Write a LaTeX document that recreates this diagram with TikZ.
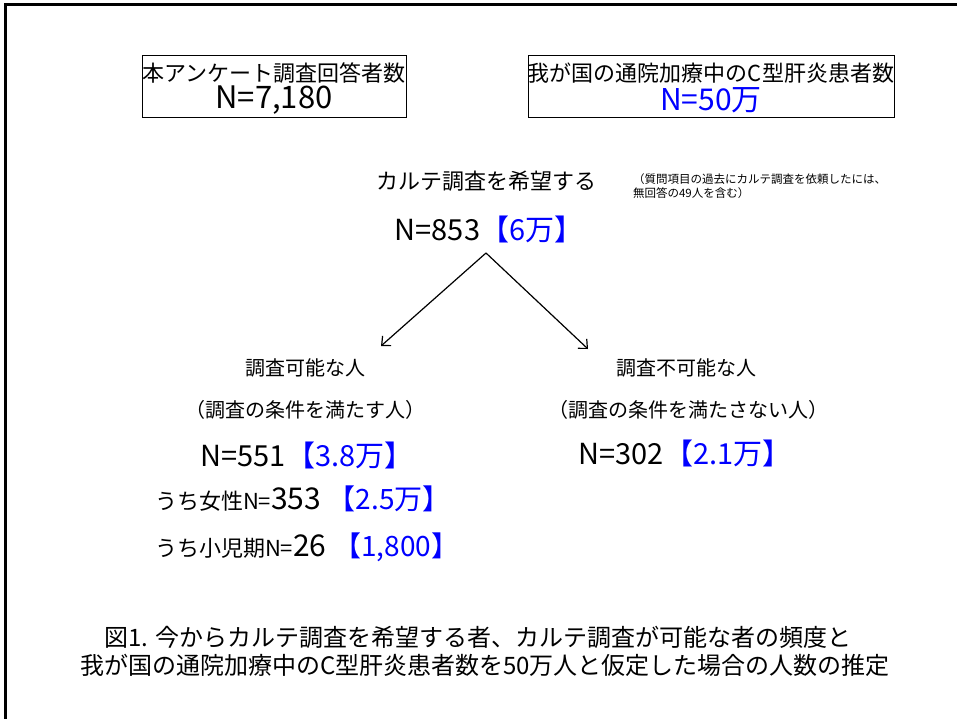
\documentclass[tikz,border=0pt]{standalone}
\usepackage{fontspec}
\setmainfont{Noto Sans CJK JP}
\usetikzlibrary{arrows.meta}
\definecolor{nblue}{RGB}{0,0,255}
\tikzset{
  txt/.style={inner sep=0pt, outer sep=0pt},
  fa/.style={txt, font=\fontsize{20}{24}\selectfont},
  fb/.style={txt, font=\fontsize{22}{26}\selectfont},
  fc/.style={txt, font=\fontsize{29}{33}\selectfont},
  fcap/.style={txt, font=\fontsize{24}{28}\selectfont},
  boxn/.style={draw, line width=0.8pt, minimum width=264pt, minimum height=62pt, inner sep=0pt},
  arr/.style={line width=1.2pt, -{Straight Barb[length=7pt,width=13pt]}},
}
\begin{document}
\begin{tikzpicture}[x=1pt,y=-1pt]
\useasboundingbox (0,0) rectangle (957,719);
% frame
\draw[line width=3pt] (5,719) -- (5,5) -- (957,5);
% top boxes
\node[boxn] (b1) at (274,86) {};
\node[fb] (b1a) at (274,73) {本アンケート調査回答者数};
\node[txt, font=\fontsize{31}{35}\selectfont] (b1b) at (274,100) {N=7,180};
\node[boxn, minimum width=366pt] (b2) at (711,86) {};
\node[fb] (b2a) at (711,73) {我が国の通院加療中のC型肝炎患者数};
\node[txt, font=\fontsize{30}{34}\selectfont, text=nblue] (b2b) at (711,100) {N=50万};
% heading
\node[fb] (h1) at (486,181) {カルテ調査を希望する};
\node[txt, font=\fontsize{11.5}{14}\selectfont, align=left, anchor=north west] (note) at (633,174) {（質問項目の過去にカルテ調査を依頼したには、\\無回答の49人を含む）};
\node[fc] (h2) at (489,229) {N=853\textcolor{nblue}{【6万】}};
% arrows
\coordinate (apex) at (486,253);
\coordinate (le) at (381,346);
\coordinate (re) at (588,349);
\draw[arr] (apex) -- (le);
\draw[arr] (apex) -- (re);
% left branch
\node[fa] (l1) at (305,368) {調査可能な人};
\node[fa] (l2) at (305,410) {（調査の条件を満たす人）};
\node[fc] (l3) at (307,455) {N=551\textcolor{nblue}{【3.8万】}};
\node[txt, anchor=west] (l4) at (155,499) {{\fontsize{22}{26}\selectfont うち女性N=}{\fontsize{30}{34}\selectfont 353 \textcolor{nblue}{\fontsize{28}{32}\selectfont【2.5万】}}};
\node[txt, anchor=west] (l5) at (155,547) {{\fontsize{22}{26}\selectfont うち小児期N=}{\fontsize{30}{34}\selectfont 26 \textcolor{nblue}{\fontsize{28}{32}\selectfont【1,800】}}};
% right branch
\node[fa] (r1) at (686,368) {調査不可能な人};
\node[fa] (r2) at (688,410) {（調査の条件を満たさない人）};
\node[fc] (r3) at (685,453) {N=302\textcolor{nblue}{【2.1万】}};
% caption
\node[fcap] (c1) at (478,637) {図1. 今からカルテ調査を希望する者、カルテ調査が可能な者の頻度と};
\node[fcap] (c2) at (485,665) {我が国の通院加療中のC型肝炎患者数を50万人と仮定した場合の人数の推定};
\end{tikzpicture}
\end{document}
